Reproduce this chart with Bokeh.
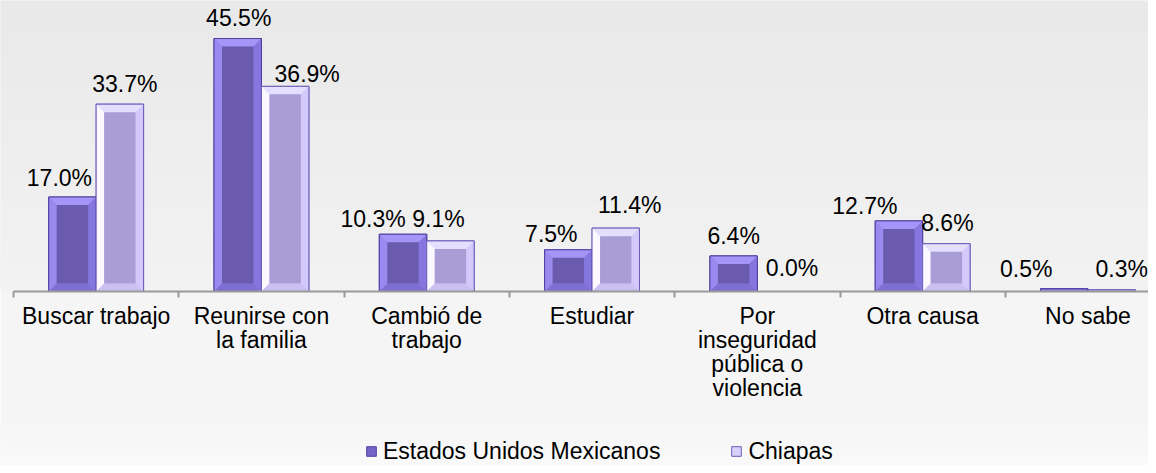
import numpy as np
from bokeh.plotting import figure
from bokeh.layouts import column
from bokeh.models import ColumnDataSource, FixedTicker, Legend, LegendItem, Range1d, LinearAxis
from bokeh.core.properties import value
from bokeh.embed import file_html
from bokeh.resources import INLINE

# ---------------- data ----------------
categories = ["Buscar trabajo", "Reunirse con\nla familia", "Cambió de\ntrabajo", "Estudiar",
              "Por\ninseguridad\npública o\nviolencia", "Otra causa", "No sabe"]
series_names = ["Estados Unidos Mexicanos", "Chiapas"]
eum = [17.0, 45.5, 10.3, 7.5, 6.4, 12.7, 0.5]
chiapas = [33.7, 36.9, 9.1, 11.4, 0.0, 8.6, 0.3]

# label placement (pixels, relative to bar top centre)
eum_dx = [-13, 1, -30, -17, 0, -34, -38]
eum_dy = [19, 21, 15, 16, 20, 15, 20]
ch_dx = [5, 22, -12, 14, 11, 1, 10]
ch_dy = [20, 12, 22, 23, 24, 21, 21]

# ---------------- layout ----------------
W = 1148
H_MAIN, H_LEG = 425, 40
LEFT = 13
BASE = 290.5
PX_X = 165.3   # px per category
PX_Y = 5.55    # px per percent
X_START = -LEFT / PX_X
X_END = (W - LEFT) / PX_X
Y_END = BASE / PX_Y
BAR_W = 0.287
FONT = "Liberation Sans"
FS = "23px"
BORDER_BG = "#f5f5f5"


def gradient(top, bottom, rows=120):
    g = np.linspace(bottom, top, rows).astype(np.uint8)
    img = np.zeros((rows, 1), dtype=np.uint32)
    view = img.view(dtype=np.uint8).reshape((rows, 1, 4))
    view[:, 0, 0] = g
    view[:, 0, 1] = g
    view[:, 0, 2] = g
    view[:, 0, 3] = 255
    return img


p = figure(width=W, height=H_MAIN, x_range=Range1d(X_START, X_END), y_range=Range1d(0, Y_END),
           output_backend="svg", toolbar_location=None,
           x_axis_location=None, y_axis_location=None,
           min_border_left=0, min_border_right=0, min_border_top=0,
           min_border_bottom=int(round(H_MAIN - BASE)))
p.grid.visible = False
p.outline_line_color = None
p.border_fill_color = BORDER_BG
p.background_fill_color = "#eeeeee"
p.image_rgba(image=[gradient(233, 243)], x=X_START, y=0, dw=X_END - X_START, dh=Y_END)

AX = 8 / PX_X
AY = 8 / PX_Y

styles = [
    dict(base="#9484ec", top="#a595f6", left="#9a8af0", right="#8676e0", bottom="#7e6fd4",
         face="#6a5bae", outline="#4d3f9e", legend="#7565c8"),
    dict(base="#d8d0fb", top="#e4deff", left="#fbf9ff", right="#d3c9fb", bottom="#cac0f2",
         face="#a89ed5", outline="#6b5cb8", legend="#d8d0fb"),
]

for s, (vals, dxs, dys) in enumerate([(eum, eum_dx, eum_dy), (chiapas, ch_dx, ch_dy)]):
    st = styles[s]
    shift = (-0.5 + s) * BAR_W
    cx = [i + 0.5 + shift for i in range(len(vals))]
    x0 = [c - BAR_W / 2 for c in cx]
    x1 = [c + BAR_W / 2 for c in cx]
    src = ColumnDataSource(dict(left=x0, right=x1, top=vals, bottom=[0] * len(vals),
                                la=[1.0 if v > 0 else 0.0 for v in vals]))
    p.quad(left="left", right="right", top="top", bottom="bottom", source=src,
           fill_color=st["base"], line_color=st["outline"], line_width=1, line_alpha="la")
    # bevel sides
    for side in ["top", "left", "right", "bottom"]:
        xs, ys = [], []
        for a, b, v in zip(x0, x1, vals):
            if v < 2 * AY + 0.3:
                continue
            ia, ib, iy0, iy1 = a + AX, b - AX, AY, v - AY
            if side == "top":
                xs.append([a, b, ib, ia]); ys.append([v, v, iy1, iy1])
            elif side == "left":
                xs.append([a, a, ia, ia]); ys.append([0, v, iy1, iy0])
            elif side == "right":
                xs.append([b, b, ib, ib]); ys.append([0, v, iy1, iy0])
            else:
                xs.append([a, b, ib, ia]); ys.append([0, 0, iy0, iy0])
        p.patches(xs, ys, fill_color=st[side], line_color=None)
    # inner face
    il, ir, it, ibm = [], [], [], []
    for a, b, v in zip(x0, x1, vals):
        if v < 2 * AY + 0.3:
            continue
        il.append(a + AX); ir.append(b - AX); it.append(v - AY); ibm.append(AY)
    p.quad(left=il, right=ir, top=it, bottom=ibm, fill_color=st["face"], line_color=None)
    # outline on top
    p.quad(left="left", right="right", top="top", bottom="bottom", source=src,
           fill_color=None, line_color=st["outline"], line_width=1, line_alpha="la")
    # value labels
    lsrc = ColumnDataSource(dict(x=cx, y=vals, t=[f"{v:.1f}%" for v in vals],
                                 xo=dxs, yo=[-d for d in dys]))
    p.text(x="x", y="y", text="t", x_offset="xo", y_offset="yo", source=lsrc,
           text_font=value(FONT), text_font_size=FS, text_color="#000000",
           text_align="center", text_baseline="middle")

# x axis with category labels at centres and separators at boundaries
ax = LinearAxis(ticker=FixedTicker(ticks=[i + 0.5 for i in range(len(categories))],
                                   minor_ticks=list(range(len(categories) + 1))),
                bounds=(0, X_END))
ax.major_label_overrides = {i + 0.5: c for i, c in enumerate(categories)}
ax.major_tick_line_color = None
ax.major_tick_in = 0
ax.major_tick_out = 0
ax.minor_tick_in = 0
ax.minor_tick_out = 6
ax.minor_tick_line_color = "#9a9a9a"
ax.minor_tick_line_width = 2
ax.axis_line_color = "#9a9a9a"
ax.axis_line_width = 2
ax.major_label_text_font = FONT
ax.major_label_text_font_size = FS
ax.major_label_text_color = "#000000"
ax.major_label_standoff = 5
ax.major_label_text_line_height = 0.93
p.add_layout(ax, "below")

# ---------------- legend strip ----------------
q = figure(width=W, height=H_LEG, x_range=Range1d(0, 1), y_range=Range1d(0, 1),
           output_backend="svg", toolbar_location=None,
           x_axis_location=None, y_axis_location=None,
           min_border_left=0, min_border_right=0, min_border_top=0, min_border_bottom=0)
q.grid.visible = False
q.outline_line_color = None
q.border_fill_color = BORDER_BG
q.background_fill_color = BORDER_BG
q.image_rgba(image=[gradient(246, 250)], x=0, y=0, dw=1, dh=1)
leg_renderers = []
for st in styles:
    leg_renderers.append(q.scatter(x=[5], y=[5], marker="square", size=11,
                                   fill_color=st["legend"], line_color=st["outline"],
                                   line_width=1))
legend = Legend(items=[LegendItem(label=series_names[i], renderers=[leg_renderers[i]])
                       for i in range(2)],
                orientation="horizontal", location=(359, 0),
                label_text_font=FONT, label_text_font_size=FS, label_text_color="#000000",
                glyph_width=24, glyph_height=28, label_standoff=0, spacing=64,
                label_height=22, padding=0, margin=0, background_fill_alpha=0,
                border_line_alpha=0)
q.add_layout(legend)

layout = column(p, q, spacing=0)
open("out.html", "w").write(file_html(layout, INLINE))
